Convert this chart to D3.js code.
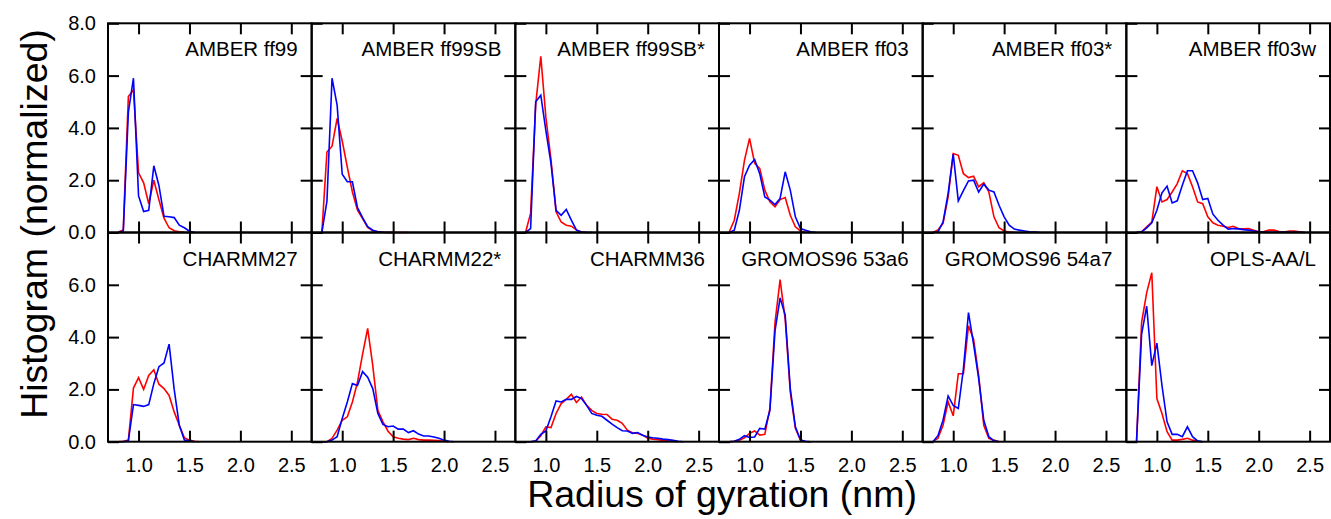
<!DOCTYPE html>
<html><head><meta charset="utf-8">
<script src="https://cdn.jsdelivr.net/npm/d3@7"></script>
<style>
body{margin:0;background:#fff}
text{font-family:"Liberation Sans",Arial,Helvetica,sans-serif;fill:#000}
</style>
</head><body>
<svg id="chart" width="1331" height="519"></svg>
<script>
// bin centres (nm), every series starts at the first bin
const radius = [0.80,0.85,0.90,0.95,1.00,1.05,1.10,1.15,1.20,1.25,1.30,1.35,1.40,1.45,1.50,1.55,1.60,1.65,1.70,1.75,1.80,1.85,1.90,1.95,2.00,2.05,2.10,2.15,2.20,2.25,2.30,2.35,2.40,2.45,2.50];

const panelNames = ["AMBER ff99","AMBER ff99SB","AMBER ff99SB*","AMBER ff03","AMBER ff03*","AMBER ff03w",
                    "CHARMM27","CHARMM22*","CHARMM36","GROMOS96 53a6","GROMOS96 54a7","OPLS-AA/L"];
const xTicks = [1.0,1.5,2.0,2.5];
const yTicksTop = [0,2,4,6,8];
const yTicksBottom = [0,2,4,6];

const ff99Red    = [0.02,0.1,5.2,5.45,2.28,1.9,1.1,2.0,1.25,0.55,0.18,0.07,0.03,0.01,0,0];
const ff99Blue   = [0,0.05,4.6,5.9,1.4,0.8,0.85,2.55,1.8,0.62,0.6,0.57,0.28,0.18,0.05,0];
const ff99SBRed  = [0,3.08,3.3,4.36,3.5,2.5,1.55,0.85,0.53,0.19,0.07,0.03,0.01,0,0,0,0,0];
const ff99SBBlue = [0,1.2,5.9,4.87,2.23,1.94,1.94,0.95,0.57,0.22,0.09,0.03,0.01,0,0];
const ff99SBsRed = [0,0.73,4.9,6.74,4.4,2.8,0.79,0.4,0.28,0.24,0.1,0.02,0];
const ff99SBsBlue= [0,0.15,5.0,5.25,3.9,2.64,0.85,0.66,0.88,0.47,0.09,0.02,0,0];
const ff03Red    = [0.02,0.47,1.5,2.76,3.6,2.64,2.45,1.62,1.17,0.98,1.26,1.34,0.66,0.22,0.06,0.01,0];
const ff03Blue   = [0,0.09,0.85,2.13,2.57,2.79,2.25,1.36,1.24,1.07,1.3,2.32,1.62,0.6,0.15,0.09,0.03,0];
const ff03sRed   = [0,0.1,0.35,1.36,3.02,2.95,2.25,2.1,2.15,1.75,1.9,1.55,0.6,0.18,0.06,0.02,0];
const ff03sBlue  = [0,0.02,0.4,1.5,3.0,1.21,1.6,1.97,2.0,1.55,1.85,1.62,1.55,1.04,0.6,0.28,0.13,0.09,0.06,0.03,0.02,0];
const ff03wRed   = [0,0.03,0.22,0.4,1.75,1.17,1.26,1.55,1.87,2.36,2.25,1.75,1.17,1.1,0.6,0.37,0.28,0.24,0.19,0.24,0.15,0.14,0.15,0.09,0.03,0.04,0.09,0.09,0.04,0.02,0.06,0.06,0.03,0];
const ff03wBlue  = [0,0.02,0.18,0.37,0.85,1.52,1.77,1.13,1.21,1.81,2.36,2.36,1.9,1.26,1.3,0.7,0.47,0.28,0.13,0.15,0.14,0.11,0.09,0.06,0.03,0.02,0.01,0.01,0.01,0.01,0.01,0.01,0.01,0];
const c27Red     = [0,0.02,0.06,2.05,2.45,2.0,2.53,2.75,2.2,2.03,1.77,1.14,0.63,0.15,0.06,0.02,0];
const c27Blue    = [0,0,0.03,1.42,1.39,1.35,1.42,2.22,2.87,3.01,3.73,2.0,0.63,0.06,0.03,0];
const c22sRed    = [0,0,0.13,0.44,0.82,0.95,1.52,2.28,3.35,4.33,2.91,1.2,0.76,0.4,0.19,0.13,0.1,0.08,0.13,0.08,0.06,0.06,0.05,0.04,0.02,0];
const c22sBlue   = [0,0,0.06,0.19,0.89,1.52,2.22,2.15,2.68,2.47,2.03,1.08,0.66,0.57,0.6,0.48,0.48,0.35,0.42,0.29,0.22,0.22,0.18,0.13,0.06,0.02,0];
const c36Red     = [0,0,0.02,0.23,0.57,0.54,1.08,1.46,1.62,1.81,1.5,1.71,1.39,1.2,1.08,1.05,1.04,0.86,0.82,0.7,0.44,0.34,0.32,0.25,0.13,0.1,0.08,0.05,0.03,0.02,0];
const c36Blue    = [0,0,0.03,0.28,0.41,0.95,1.56,1.52,1.62,1.62,1.73,1.65,1.39,1.08,1.01,0.97,0.82,0.67,0.54,0.42,0.41,0.32,0.35,0.25,0.18,0.15,0.13,0.1,0.08,0.05,0.02,0];
const g53a6Red   = [0,0.02,0.06,0.15,0.32,0.41,0.25,0.28,1.27,4.56,6.2,4.68,1.9,0.51,0.06,0.01,0];
const g53a6Blue  = [0,0.02,0.09,0.23,0.16,0.18,0.51,0.48,1.2,4.24,5.5,4.84,2.03,0.57,0.06,0.02,0];
const g54a7Red   = [0,0.13,0.63,1.52,0.99,2.6,2.6,4.43,3.92,2.53,0.63,0.13,0.06,0];
const g54a7Blue  = [0,0.23,0.82,1.75,1.39,1.27,2.78,4.94,3.73,2.41,0.82,0.19,0.03,0];
const oplsRed    = [0,4.56,5.7,6.46,1.65,1.08,0.38,0.06,0.06,0.09,0.13,0.06,0.02,0];
const oplsBlue   = [0,4.11,5.18,2.91,3.77,2.15,0.76,0.28,0.28,0.19,0.57,0.19,0.03,0];

const redList  = [ff99Red,ff99SBRed,ff99SBsRed,ff03Red,ff03sRed,ff03wRed,c27Red,c22sRed,c36Red,g53a6Red,g54a7Red,oplsRed];
const blueList = [ff99Blue,ff99SBBlue,ff99SBsBlue,ff03Blue,ff03sBlue,ff03wBlue,c27Blue,c22sBlue,c36Blue,g53a6Blue,g54a7Blue,oplsBlue];

(function () {
  // layout
  const plotL = 108, plotR = 1330, plotT = 23.3, plotB = 441.7;
  const cols = 6, rows = 2;
  const pw = (plotR - plotL) / cols, ph = (plotB - plotT) / rows;
  const tick = 11;

  const svg = d3.select("#chart");
  const x = d3.scaleLinear().domain([0.7, 2.7]).range([0, pw]);
  const y = d3.scaleLinear().domain([0, 8]).range([ph, 0]);
  const line = d3.line().x(d => x(d[0])).y(d => y(d[1]));

  panelNames.forEach((name, i) => {
    const c = i % cols, r = Math.floor(i / cols);
    const g = svg.append("g").attr("transform", `translate(${plotL + c * pw},${plotT + r * ph})`);

    [[redList[i], "#ff0000"], [blueList[i], "#0000ff"]].forEach(([vals, col]) => {
      g.append("path")
        .datum(vals.map((v, k) => [radius[k], v]))
        .attr("d", line)
        .attr("fill", "none")
        .attr("stroke", col)
        .attr("stroke-width", 1.6)
        .attr("stroke-linejoin", "miter");
    });

    const yt = r === 0 ? yTicksTop : yTicksBottom;
    const axB = g.append("g").attr("transform", `translate(0,${ph})`)
      .call(d3.axisBottom(x).tickValues(xTicks).tickSize(-tick).tickSizeOuter(0).tickPadding(16)
        .tickFormat(r === rows - 1 ? d3.format(".1f") : () => ""));
    const axT = g.append("g")
      .call(d3.axisTop(x).tickValues(xTicks).tickSize(-tick).tickSizeOuter(0).tickFormat(() => ""));
    const axL = g.append("g")
      .call(d3.axisLeft(y).tickValues(yt).tickSize(-tick).tickSizeOuter(0).tickPadding(12)
        .tickFormat(c === 0 ? d3.format(".1f") : () => ""));
    const axR = g.append("g").attr("transform", `translate(${pw},0)`)
      .call(d3.axisRight(y).tickValues([2,4,6]).tickSize(-tick).tickSizeOuter(0).tickFormat(() => ""));
    [axB, axT, axL, axR].forEach(a => {
      a.select(".domain").remove();
      a.selectAll("line").attr("stroke", "#000").attr("stroke-width", 2);
      a.selectAll("text").style("font-size", "20px").attr("fill", "#000")
        .style("font-family", '"Liberation Sans",Arial,sans-serif');
    });

    g.append("rect").attr("width", pw).attr("height", ph)
      .attr("fill", "none").attr("stroke", "#000").attr("stroke-width", 2);

    g.append("text").attr("x", pw - 14).attr("y", 33).attr("text-anchor", "end")
      .style("font-size", "20.5px").text(name);
  });

  svg.append("text").attr("x", 722).attr("y", 507).attr("text-anchor", "middle")
    .style("font-size", "37.5px").text("Radius of gyration (nm)");
  svg.append("text").attr("transform", "translate(47,224) rotate(-90)").attr("text-anchor", "middle")
    .style("font-size", "37.5px").text("Histogram (normalized)");
})();
</script>
</body></html>
